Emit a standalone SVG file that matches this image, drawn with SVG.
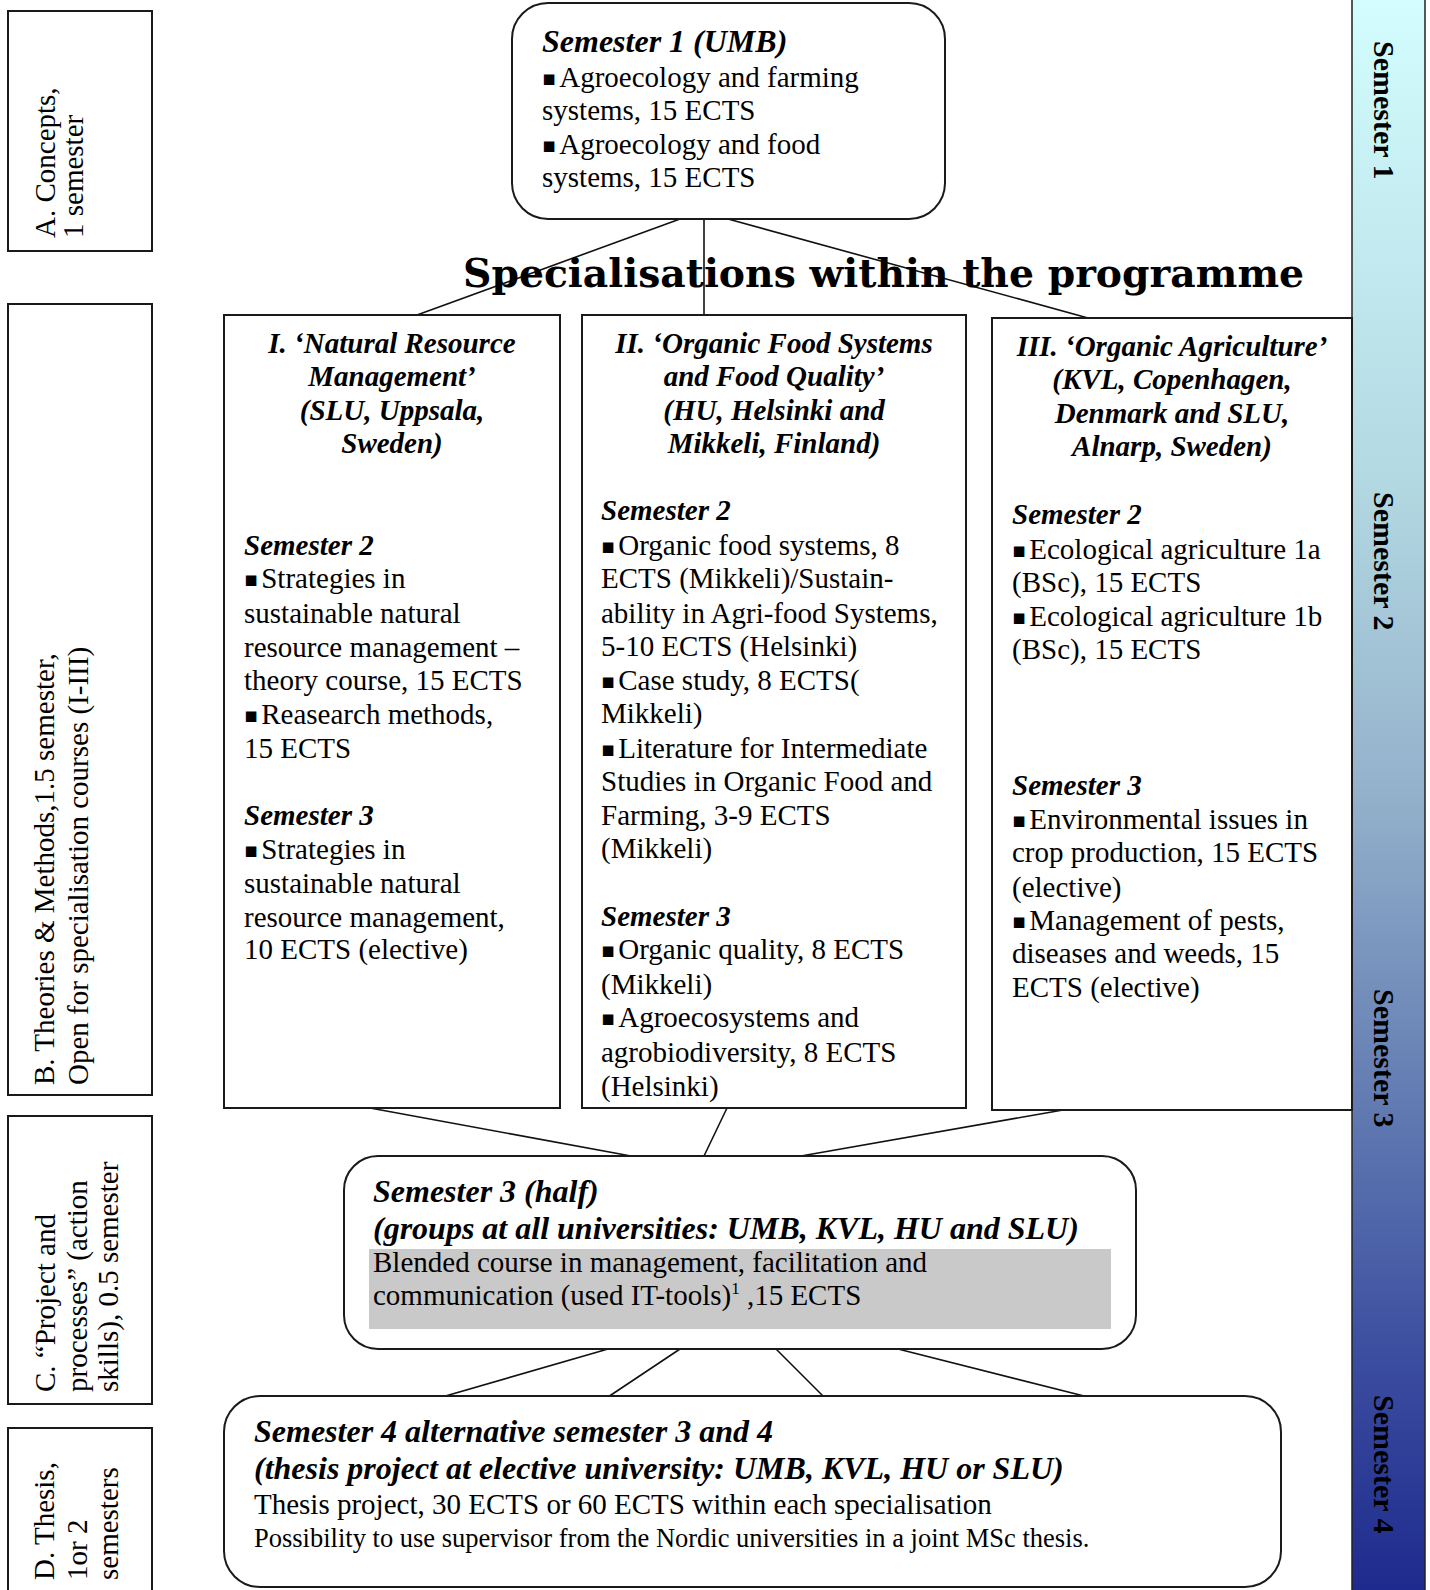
<svg xmlns="http://www.w3.org/2000/svg" width="1430" height="1590" viewBox="0 0 1430 1590">
<defs>
<linearGradient id="bar" x1="0" y1="0" x2="0" y2="1">
<stop offset="0" stop-color="#d3fdfe"/>
<stop offset="0.3" stop-color="#b3d9e2"/>
<stop offset="0.5" stop-color="#94b1cb"/>
<stop offset="0.7" stop-color="#6079b1"/>
<stop offset="0.85" stop-color="#3c4ea0"/>
<stop offset="1" stop-color="#1e2a8d"/>
</linearGradient>
<clipPath id="clip2"><rect x="582" y="316" width="383" height="791"/></clipPath>
</defs>
<style>
.box{fill:#fff;stroke:#1a1a1a;stroke-width:2}
.conn line{stroke:#111;stroke-width:1.6}
text{font-family:"Liberation Serif","Times New Roman",serif;fill:#000}
.r{font-size:29px}
.bi{font-size:29px;font-weight:bold;font-style:italic}
.hb{font-size:32px;font-weight:bold;font-style:italic}
.ctr{text-anchor:middle}
.bul{font-family:"DejaVu Sans",sans-serif;font-size:21px}
.side{font-size:29px}
.bar{font-size:30px;font-weight:bold}
.sm{font-size:26.5px}
.title{font-family:"DejaVu Serif",serif;font-size:39px;font-weight:bold}
</style>
<rect width="1430" height="1590" fill="#fff"/>

<g id="semester-bar">
<rect x="1352" y="-2" width="73" height="1594" fill="url(#bar)" stroke="#222" stroke-width="1.5"/>
<text class="bar" transform="translate(1374,41) rotate(90)">Semester 1</text>
<text class="bar" transform="translate(1374,492) rotate(90)">Semester 2</text>
<text class="bar" transform="translate(1374,989) rotate(90)">Semester 3</text>
<text class="bar" transform="translate(1374,1395) rotate(90)">Semester 4</text>
</g>

<g id="label-A">
<rect class="box" x="8" y="11" width="144" height="240"/>
<text class="side" transform="translate(55,238) rotate(-90)">A. Concepts,</text>
<text class="side" transform="translate(83,238) rotate(-90)">1 semester</text>
</g>
<g id="label-B">
<rect class="box" x="8" y="304" width="144" height="791"/>
<text class="side" transform="translate(54,1085) rotate(-90)">B. Theories &amp; Methods,1.5 semester,</text>
<text class="side" transform="translate(88,1085) rotate(-90)">Open for specialisation courses (I-III)</text>
</g>
<g id="label-C">
<rect class="box" x="8" y="1116" width="144" height="288"/>
<text class="side" transform="translate(55,1392) rotate(-90)">C. “Project and</text>
<text class="side" transform="translate(87,1392) rotate(-90)">processes” (action</text>
<text class="side" transform="translate(118,1392) rotate(-90)">skills), 0.5 semester</text>
</g>
<g id="label-D">
<rect class="box" x="8" y="1428" width="144" height="170"/>
<text class="side" transform="translate(54,1580) rotate(-90)">D. Thesis,</text>
<text class="side" transform="translate(87,1580) rotate(-90)">1or 2</text>
<text class="side" transform="translate(118,1580) rotate(-90)">semesters</text>
</g>

<g class="conn" id="connectors">
<line x1="680" y1="219" x2="417" y2="315"/>
<line x1="704" y1="219" x2="704" y2="315"/>
<line x1="728" y1="219" x2="1088" y2="318"/>
<line x1="370" y1="1108" x2="631" y2="1156"/>
<line x1="727" y1="1108" x2="704" y2="1156"/>
<line x1="1063" y1="1110" x2="801" y2="1156"/>
<line x1="608" y1="1349" x2="442" y2="1397"/>
<line x1="680" y1="1349" x2="608" y2="1397"/>
<line x1="776" y1="1349" x2="824" y2="1397"/>
<line x1="898" y1="1349" x2="1088" y2="1397"/>
</g>

<g id="semester1">
<rect class="box" x="512" y="3" width="433" height="216" rx="36"/>
<text class="hb" x="542" y="52">Semester 1 (UMB)</text>
<text class="r" x="542" y="87"><tspan class="bul" dy="-2">▪</tspan><tspan dx="3" dy="2">Agroecology and farming</tspan></text>
<text class="r" x="542" y="120">systems, 15 ECTS</text>
<text class="r" x="542" y="154"><tspan class="bul" dy="-2">▪</tspan><tspan dx="3" dy="2">Agroecology and food</tspan></text>
<text class="r" x="542" y="187">systems, 15 ECTS</text>
</g>

<text id="title" class="title" x="463" y="287" textLength="841" lengthAdjust="spacingAndGlyphs">Specialisations within the programme</text>

<g id="spec-I">
<rect class="box" x="224" y="315" width="336" height="793"/>
<text class="bi ctr" x="392" y="353">I. ‘Natural Resource</text>
<text class="bi ctr" x="392" y="386">Management’</text>
<text class="bi ctr" x="392" y="420">(SLU, Uppsala,</text>
<text class="bi ctr" x="392" y="453">Sweden)</text>
<text class="bi" x="244" y="555">Semester 2</text>
<text class="r" x="244" y="588"><tspan class="bul" dy="-2">▪</tspan><tspan dx="3" dy="2">Strategies in</tspan></text>
<text class="r" x="244" y="623">sustainable natural</text>
<text class="r" x="244" y="657">resource management –</text>
<text class="r" x="244" y="690">theory course, 15 ECTS</text>
<text class="r" x="244" y="724"><tspan class="bul" dy="-2">▪</tspan><tspan dx="3" dy="2">Reasearch methods,</tspan></text>
<text class="r" x="244" y="758">15 ECTS</text>
<text class="bi" x="244" y="825">Semester 3</text>
<text class="r" x="244" y="859"><tspan class="bul" dy="-2">▪</tspan><tspan dx="3" dy="2">Strategies in</tspan></text>
<text class="r" x="244" y="893">sustainable natural</text>
<text class="r" x="244" y="927">resource management,</text>
<text class="r" x="244" y="959">10 ECTS (elective)</text>
</g>

<g id="spec-II">
<rect class="box" x="582" y="315" width="384" height="793"/>
<g clip-path="url(#clip2)">
<text class="bi ctr" x="774" y="353">II. ‘Organic Food Systems</text>
<text class="bi ctr" x="774" y="386">and Food Quality’</text>
<text class="bi ctr" x="774" y="420">(HU, Helsinki and</text>
<text class="bi ctr" x="774" y="453">Mikkeli, Finland)</text>
<text class="bi" x="601" y="520">Semester 2</text>
<text class="r" x="601" y="555"><tspan class="bul" dy="-2">▪</tspan><tspan dx="3" dy="2">Organic food systems, 8</tspan></text>
<text class="r" x="601" y="588">ECTS (Mikkeli)/Sustain-</text>
<text class="r" x="601" y="623">ability in Agri-food Systems,</text>
<text class="r" x="601" y="656">5-10 ECTS (Helsinki)</text>
<text class="r" x="601" y="690"><tspan class="bul" dy="-2">▪</tspan><tspan dx="3" dy="2">Case study, 8 ECTS(</tspan></text>
<text class="r" x="601" y="723">Mikkeli)</text>
<text class="r" x="601" y="758"><tspan class="bul" dy="-2">▪</tspan><tspan dx="3" dy="2">Literature for Intermediate</tspan></text>
<text class="r" x="601" y="791">Studies in Organic Food and</text>
<text class="r" x="601" y="825">Farming, 3-9 ECTS</text>
<text class="r" x="601" y="858">(Mikkeli)</text>
<text class="bi" x="601" y="926">Semester 3</text>
<text class="r" x="601" y="959"><tspan class="bul" dy="-2">▪</tspan><tspan dx="3" dy="2">Organic quality, 8 ECTS</tspan></text>
<text class="r" x="601" y="994">(Mikkeli)</text>
<text class="r" x="601" y="1027"><tspan class="bul" dy="-2">▪</tspan><tspan dx="3" dy="2">Agroecosystems and</tspan></text>
<text class="r" x="601" y="1062">agrobiodiversity, 8 ECTS</text>
<text class="r" x="601" y="1096">(Helsinki)</text>
</g>
</g>

<g id="spec-III">
<rect class="box" x="992" y="318" width="360" height="792"/>
<text class="bi ctr" x="1172" y="356">III. ‘Organic Agriculture’</text>
<text class="bi ctr" x="1172" y="389">(KVL, Copenhagen,</text>
<text class="bi ctr" x="1172" y="423">Denmark and SLU,</text>
<text class="bi ctr" x="1172" y="456">Alnarp, Sweden)</text>
<text class="bi" x="1012" y="524">Semester 2</text>
<text class="r" x="1012" y="559"><tspan class="bul" dy="-2">▪</tspan><tspan dx="3" dy="2">Ecological agriculture 1a</tspan></text>
<text class="r" x="1012" y="592">(BSc), 15 ECTS</text>
<text class="r" x="1012" y="626"><tspan class="bul" dy="-2">▪</tspan><tspan dx="3" dy="2">Ecological agriculture 1b</tspan></text>
<text class="r" x="1012" y="659">(BSc), 15 ECTS</text>
<text class="bi" x="1012" y="795">Semester 3</text>
<text class="r" x="1012" y="829"><tspan class="bul" dy="-2">▪</tspan><tspan dx="3" dy="2">Environmental issues in</tspan></text>
<text class="r" x="1012" y="862">crop production, 15 ECTS</text>
<text class="r" x="1012" y="897">(elective)</text>
<text class="r" x="1012" y="930"><tspan class="bul" dy="-2">▪</tspan><tspan dx="3" dy="2">Management of pests,</tspan></text>
<text class="r" x="1012" y="963">diseases and weeds, 15</text>
<text class="r" x="1012" y="997">ECTS (elective)</text>
</g>

<g id="semester3-half">
<rect class="box" x="344" y="1156" width="792" height="193" rx="34"/>
<rect x="369" y="1249" width="742" height="80" fill="#c9c9c9"/>
<text class="hb" x="373" y="1202">Semester 3 (half)</text>
<text class="hb" x="373" y="1239">(groups at all universities: UMB, KVL, HU and SLU)</text>
<text class="r" x="373" y="1272">Blended course in management, facilitation and</text>
<text class="r" x="373" y="1305">communication (used IT-tools)<tspan font-size="17" dy="-11">1</tspan><tspan dy="11"> ,15 ECTS</tspan></text>
</g>

<g id="semester4">
<rect class="box" x="224" y="1396" width="1057" height="191" rx="36"/>
<text class="hb" x="254" y="1442">Semester 4 alternative semester 3 and 4</text>
<text class="hb" x="254" y="1479">(thesis project at elective university: UMB, KVL, HU or SLU)</text>
<text class="r" x="254" y="1514">Thesis project, 30 ECTS or 60 ECTS within each specialisation</text>
<text class="sm" x="254" y="1547">Possibility to use supervisor from the Nordic universities in a joint MSc thesis.</text>
</g>
</svg>
